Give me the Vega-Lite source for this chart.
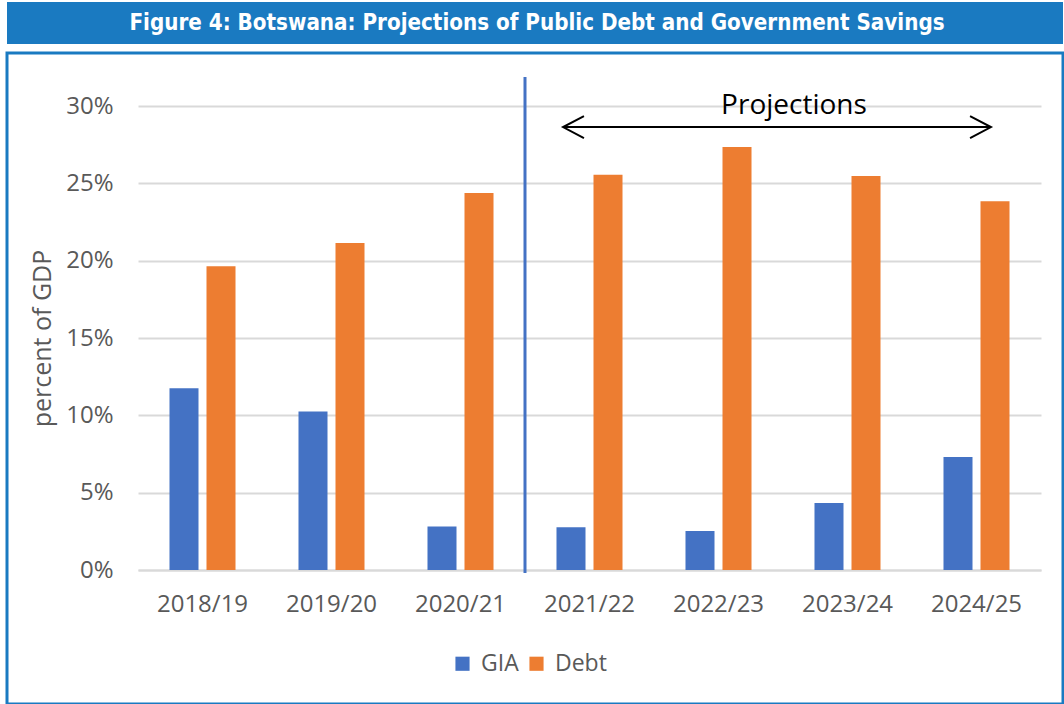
{
  "$schema": "https://vega.github.io/schema/vega-lite/v6.json",
  "padding": {"left": 5, "top": 2, "right": 0, "bottom": 0},
  "background": "white",
  "spacing": 7,
  "config": {"view": {"stroke": null}, "font": "Open Sans"},
  "vconcat": [
    {
      "width": 1056,
      "height": 42,
      "view": {"fill": "#1a7ac1", "stroke": null},
      "data": {"values": [{"title": "Figure 4: Botswana: Projections of Public Debt and Government Savings"}]},
      "mark": {"type": "text", "font": "DejaVu Sans Condensed", "fontWeight": "bold", "fontSize": 22.2, "color": "white", "baseline": "middle", "align": "center", "dx": 2},
      "encoding": {"text": {"field": "title", "type": "nominal"}}
    },
    {
      "width": 1056,
      "height": 651,
      "view": {"fill": "white", "stroke": "#1a7ac1", "strokeWidth": 3},
      "resolve": {"scale": {"x": "independent"}},
      "layer": [
        {
          "data": {"values": [
            {"year": "2018/19", "series": "GIA", "value": 0.1175},
            {"year": "2018/19", "series": "Debt", "value": 0.1964},
            {"year": "2019/20", "series": "GIA", "value": 0.1024},
            {"year": "2019/20", "series": "Debt", "value": 0.2114},
            {"year": "2020/21", "series": "GIA", "value": 0.0282},
            {"year": "2020/21", "series": "Debt", "value": 0.2437},
            {"year": "2021/22", "series": "GIA", "value": 0.0276},
            {"year": "2021/22", "series": "Debt", "value": 0.2556},
            {"year": "2022/23", "series": "GIA", "value": 0.0252},
            {"year": "2022/23", "series": "Debt", "value": 0.2735},
            {"year": "2023/24", "series": "GIA", "value": 0.0433},
            {"year": "2023/24", "series": "Debt", "value": 0.2547},
            {"year": "2024/25", "series": "GIA", "value": 0.0731},
            {"year": "2024/25", "series": "Debt", "value": 0.2384}
          ]},
          "mark": {"type": "bar"},
          "encoding": {
            "x": {
              "field": "year", "type": "nominal", "sort": null,
              "scale": {"range": [131, 1034], "paddingInner": 0, "paddingOuter": 0},
              "axis": {"orient": "bottom", "offset": -134, "title": null, "labelAngle": 0, "ticks": false, "grid": false,
                       "domain": true, "domainColor": "#d9d9d9", "domainWidth": 2,
                       "labelFontSize": 24, "labelColor": "#595959", "labelPadding": 22}
            },
            "xOffset": {
              "field": "series", "type": "nominal", "sort": ["GIA", "Debt"],
              "scale": {"paddingInner": 0.216, "paddingOuter": 0.851}
            },
            "y": {
              "field": "value", "type": "quantitative",
              "scale": {"domain": [0, 0.3], "range": [517, 53], "nice": false, "zero": true},
              "axis": {"orient": "left", "offset": -131, "format": ".0%", "values": [0, 0.05, 0.1, 0.15, 0.2, 0.25, 0.3],
                       "ticks": false, "domain": false, "grid": true, "gridColor": "#d9d9d9", "gridWidth": 2,
                       "labelFontSize": 24, "labelColor": "#595959", "labelPadding": 25,
                       "title": "percent of GDP", "titleFontSize": 25, "titleFontWeight": "normal", "titleColor": "#595959",
                       "titleX": -96, "titleY": 285, "titleBaseline": "middle", "titleAngle": -90}
            },
            "color": {
              "field": "series", "type": "nominal", "sort": ["GIA", "Debt"],
              "scale": {"domain": ["GIA", "Debt"], "range": ["#4472C4", "#ED7D31"]},
              "legend": {"orient": "none", "legendX": 444, "legendY": 650, "direction": "horizontal", "title": null,
                         "symbolType": "square", "symbolSize": 200, "symbolStrokeWidth": 0,
                         "labelFontSize": 23, "labelColor": "#595959", "labelOffset": 7, "columnPadding": 6}
            }
          }
        },
        {
          "data": {"values": [{"pos": 3.0, "lo": -0.002, "hi": 0.3188}]},
          "mark": {"type": "rule", "color": "#4472C4", "strokeWidth": 3},
          "encoding": {
            "x": {"field": "pos", "type": "quantitative", "scale": {"domain": [0, 7], "range": [131, 1034]}, "axis": null},
            "y": {"field": "lo", "type": "quantitative"},
            "y2": {"field": "hi"}
          }
        },
        {
          "data": {"values": [{"start": 3.295, "end": 6.612, "level": 0.2864}]},
          "mark": {"type": "rule", "color": "black", "strokeWidth": 2},
          "encoding": {
            "x": {"field": "start", "type": "quantitative", "scale": {"domain": [0, 7], "range": [131, 1034]}, "axis": null},
            "x2": {"field": "end"},
            "y": {"field": "level", "type": "quantitative"}
          }
        },
        {
          "data": {"values": [
            {"pos": 3.295, "level": 0.2864, "tip": "left"},
            {"pos": 6.612, "level": 0.2864, "tip": "right"}
          ]},
          "mark": {"type": "point", "filled": false, "color": "black", "strokeWidth": 2, "opacity": 1, "size": 484},
          "encoding": {
            "x": {"field": "pos", "type": "quantitative", "scale": {"domain": [0, 7], "range": [131, 1034]}, "axis": null},
            "y": {"field": "level", "type": "quantitative"},
            "shape": {"field": "tip", "type": "nominal",
                      "scale": {"domain": ["left", "right"], "range": ["M1.9,-1L0,0L1.9,1", "M-1.9,-1L0,0L-1.9,1"]},
                      "legend": null}
          }
        },
        {
          "data": {"values": [{"pos": 5.085, "level": 0.2948, "label": "Projections"}]},
          "mark": {"type": "text", "fontSize": 28, "color": "black", "baseline": "alphabetic", "align": "center"},
          "encoding": {
            "x": {"field": "pos", "type": "quantitative", "scale": {"domain": [0, 7], "range": [131, 1034]}, "axis": null},
            "y": {"field": "level", "type": "quantitative"},
            "text": {"field": "label", "type": "nominal"}
          }
        }
      ]
    }
  ]
}
